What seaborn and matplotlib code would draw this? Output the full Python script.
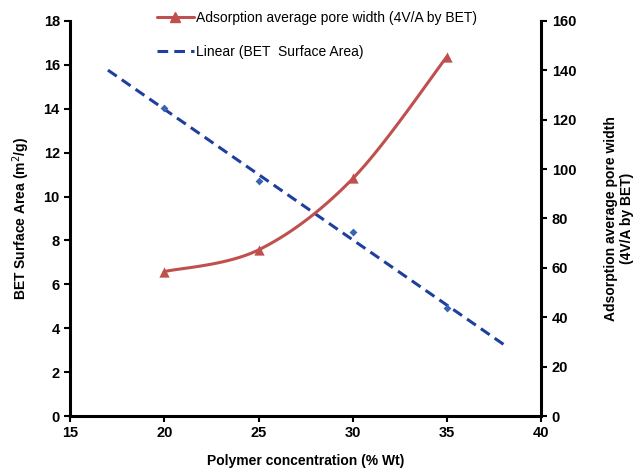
import numpy as np
import pandas as pd
import matplotlib
matplotlib.use("Agg")
import matplotlib.pyplot as plt
import seaborn as sns

# Data
polymer_conc = [20, 25, 30, 35]
bet_surface_area = [14.05, 10.7, 8.4, 4.9]
pore_width = [58.5, 67.3, 96.2, 145.6]
trend_range = [17, 38]

sns.set_style("ticks", {'axes.edgecolor': 'black', 'xtick.color': 'black',
                        'ytick.color': 'black', 'text.color': 'black',
                        'axes.labelcolor': 'black'})
plt.rcParams['font.family'] = ['Liberation Sans', 'DejaVu Sans']


def smooth_curve(x, y, n=40):
    """Excel-style smoothed line (Catmull-Rom bezier)."""
    x = np.asarray(x, float)
    y = np.asarray(y, float)
    px = np.concatenate([[x[0]], x, [x[-1]]])
    py = np.concatenate([[y[0]], y, [y[-1]]])
    xs, ys = [], []
    t = np.linspace(0, 1, n)
    for i in range(1, len(px) - 2):
        p0 = np.array([px[i], py[i]])
        p3 = np.array([px[i + 1], py[i + 1]])
        p1 = p0 + (np.array([px[i + 1], py[i + 1]]) - np.array([px[i - 1], py[i - 1]])) / 6
        p2 = p3 - (np.array([px[i + 2], py[i + 2]]) - np.array([px[i], py[i]])) / 6
        pts = ((1 - t) ** 3)[:, None] * p0 + (3 * (1 - t) ** 2 * t)[:, None] * p1 \
            + (3 * (1 - t) * t ** 2)[:, None] * p2 + (t ** 3)[:, None] * p3
        xs.extend(pts[:, 0])
        ys.extend(pts[:, 1])
    return np.array(xs), np.array(ys)


df = pd.DataFrame({'conc': polymer_conc, 'bet': bet_surface_area, 'pore': pore_width})

# linear trendline like Excel's, extended 3 units each way
slope, intercept = np.polyfit(df['conc'], df['bet'], 1)
trend = pd.DataFrame({'conc': trend_range})
trend['bet'] = slope * trend['conc'] + intercept

sx, sy = smooth_curve(df['conc'], df['pore'])
smooth_df = pd.DataFrame({'conc': sx, 'pore': sy})

fig = plt.figure(figsize=(6.33, 4.72), dpi=100)
ax = fig.add_axes([0.111, 0.1186, 0.744, 0.837])
ax2 = ax.twinx()

red = '#C0504D'
dash_blue = '#1F3F9E'

sns.scatterplot(data=df, x='conc', y='bet', ax=ax, marker='D', s=16,
                color='#3A62B5', edgecolor='#3A62B5', linewidth=0, zorder=3)
sns.lineplot(data=trend, x='conc', y='bet', ax=ax, color=dash_blue,
             linestyle=(0, (3.5, 2)), linewidth=2.2, label='_nolegend_')

sns.lineplot(data=smooth_df, x='conc', y='pore', ax=ax2, color=red,
             linewidth=2.2, sort=False, estimator=None)
sns.scatterplot(data=df, x='conc', y='pore', ax=ax2, marker='^', s=55,
                color=red, edgecolor=red, linewidth=0, zorder=3)

ax.set_xlim(15, 40)
ax.set_ylim(0, 18)
ax2.set_ylim(0, 160)
ax.set_xticks(np.arange(15, 41, 5))
ax.set_yticks(np.arange(0, 19, 2))
ax2.set_yticks(np.arange(0, 161, 20))

for a in (ax, ax2):
    a.spines['top'].set_visible(False)
    for s in ('left', 'bottom', 'right'):
        a.spines[s].set_linewidth(2.2)
    a.tick_params(width=1.5, length=4, labelsize=10.5)
    for lbl in a.get_xticklabels() + a.get_yticklabels():
        lbl.set_fontweight('bold')
ax2.spines['left'].set_visible(False)
ax2.spines['bottom'].set_visible(False)
ax.spines['right'].set_visible(False)

ax.set_xlabel('Polymer concentration (% Wt)', fontsize=10, fontweight='bold', labelpad=10)
ax.set_ylabel('BET Surface Area (m$^2$/g)', fontsize=10, fontweight='bold', labelpad=8)
ax2.set_ylabel('Adsorption average pore width\n(4V/A by BET)', fontsize=10,
               fontweight='bold', labelpad=20, linespacing=1.15)

handles = [
    plt.Line2D([], [], color=red, linewidth=2.2, marker='^', markersize=7),
    plt.Line2D([], [], color=dash_blue, linewidth=2.2, linestyle=(0, (3.5, 2))),
]
labels = ['Adsorption average pore width (4V/A by BET)', 'Linear (BET  Surface Area)']
leg = ax.legend(handles, labels, loc='upper left', bbox_to_anchor=(0.185, 1.025),
                frameon=False, fontsize=10, handlelength=2.6, labelspacing=1.4,
                handletextpad=0.2, borderaxespad=0, borderpad=0)

fig.savefig('out.png', dpi=100)
